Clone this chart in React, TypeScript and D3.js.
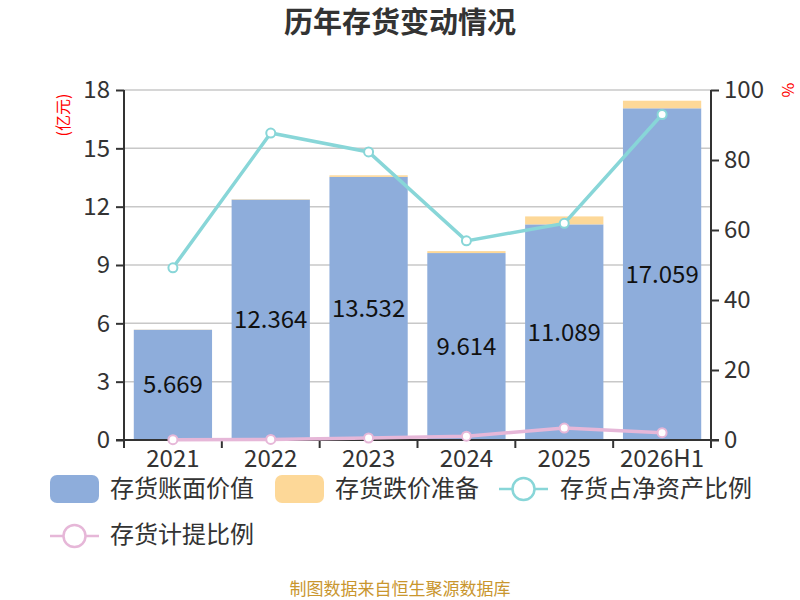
import { useEffect, useRef } from "react";
import * as d3 from "d3";

const years = ["2021", "2022", "2023", "2024", "2025", "2026H1"];
const bookValue = [5.669, 12.364, 13.532, 9.614, 11.089, 17.059];
const impairment = [0.01, 0.02, 0.08, 0.1, 0.41, 0.39];
const netAssetRatio = [49.2, 87.7, 82.3, 56.9, 61.9, 93.0];
const provisionRatio = [0.1, 0.15, 0.57, 1.1, 3.4, 2.1];
const leftTicks = [0, 3, 6, 9, 12, 15, 18];
const rightTicks = [0, 20, 40, 60, 80, 100];

const FONT = "'Noto Sans CJK SC', 'Noto Sans', sans-serif";

export default function App() {
  const svgRef = useRef<SVGSVGElement>(null);

  useEffect(() => {
    if (!svgRef.current) return;
    const svg = d3.select(svgRef.current);
    svg.selectAll("*").remove();

    const left = 124, right = 711, top = 90, bottom = 440;

    const yL = d3.scaleLinear().domain([0, 18]).range([bottom, top]);
    const yR = d3.scaleLinear().domain([0, 100]).range([bottom, top]);

    // title
    svg.append("text")
      .attr("x", 400).attr("y", 33)
      .attr("text-anchor", "middle")
      .style("font-family", FONT).style("font-size", "29px").style("font-weight", "bold")
      .attr("fill", "#333")
      .text("历年存货变动情况");

    // grid
    svg.append("g").selectAll("line").data(leftTicks).enter().append("line")
      .attr("x1", left).attr("x2", right)
      .attr("y1", (d) => yL(d)).attr("y2", (d) => yL(d))
      .attr("stroke", "#c8c8c8").attr("stroke-width", 1.5);

    // bars
    const band = d3.scaleBand().domain(years).range([left, right]).padding(0);
    const bw = band.bandwidth() * 0.8;
    const bx = (d: string) => (band(d) as number) + band.bandwidth() * 0.1;

    svg.append("g").selectAll("rect").data(years).enter().append("rect")
      .attr("x", (d) => bx(d)).attr("width", bw)
      .attr("y", (d, i) => yL(bookValue[i]))
      .attr("height", (d, i) => yL(0) - yL(bookValue[i]))
      .attr("fill", "#8eaddb");

    svg.append("g").selectAll("rect").data(years).enter().append("rect")
      .attr("x", (d) => bx(d)).attr("width", bw)
      .attr("y", (d, i) => yL(bookValue[i] + impairment[i]))
      .attr("height", (d, i) => yL(bookValue[i]) - yL(bookValue[i] + impairment[i]))
      .attr("fill", "#fdd898");

    // value labels
    svg.append("g").selectAll("text").data(years).enter().append("text")
      .attr("x", (d) => bx(d) + bw / 2)
      .attr("y", (d, i) => yL(bookValue[i] / 2))
      .attr("dy", "0.35em")
      .attr("text-anchor", "middle")
      .style("font-family", FONT).style("font-size", "24px")
      .attr("fill", "#111")
      .text((d, i) => bookValue[i].toFixed(3));

    // axes
    const axisColor = "#333";
    const gL = svg.append("g").attr("transform", `translate(${left},0)`)
      .call(d3.axisLeft(yL).tickValues(leftTicks).tickSize(8).tickPadding(6).tickSizeOuter(0));
    const gR = svg.append("g").attr("transform", `translate(${right},0)`)
      .call(d3.axisRight(yR).tickValues(rightTicks).tickSize(8).tickPadding(5).tickSizeOuter(0));
    const gX = svg.append("g").attr("transform", `translate(0,${bottom})`)
      .call(d3.axisBottom(band).tickSize(0).tickSizeOuter(0));

    [gL, gR, gX].forEach((g) => {
      g.select(".domain").attr("stroke", axisColor).attr("stroke-width", 2);
      g.selectAll(".tick line").attr("stroke", axisColor).attr("stroke-width", 2);
      g.selectAll(".tick text")
        .style("font-family", FONT).style("font-size", "24px").attr("fill", "#333");
    });
    gL.select(".domain").attr("d", `M0,${top}V${bottom + 8}`);
    gR.select(".domain").attr("d", `M0,${top}V${bottom + 8}`);
    gX.select(".domain").attr("d", `M${left - 8},0H${right + 8}`);
    gX.selectAll(".tick text").attr("dy", "0.5em").attr("y", 15);

    // x separators between categories
    const bounds = [...years.map((d) => band(d) as number), right];
    gX.append("g").selectAll("line").data(bounds).enter().append("line")
      .attr("x1", (d) => d).attr("x2", (d) => d)
      .attr("y1", 0).attr("y2", 8)
      .attr("stroke", axisColor).attr("stroke-width", 2);

    // axis unit labels
    svg.append("text")
      .attr("transform", `translate(63,115) rotate(-90)`)
      .attr("text-anchor", "middle").attr("dy", "0.35em")
      .style("font-family", FONT).style("font-size", "16px")
      .attr("fill", "#f00").text("(亿元)");
    svg.append("text")
      .attr("transform", `translate(788,90) rotate(90)`)
      .attr("text-anchor", "middle").attr("dy", "0.35em")
      .style("font-family", FONT).style("font-size", "16px")
      .attr("fill", "#f00").text("%");

    // lines
    const cx = (d: string) => bx(d) + bw / 2;
    const drawLine = (vals: number[], color: string) => {
      const line = d3.line<number>()
        .x((d, i) => cx(years[i]))
        .y((d) => yR(d));
      svg.append("path").datum(vals)
        .attr("d", line).attr("fill", "none")
        .attr("stroke", color).attr("stroke-width", 3.5);
      svg.append("g").selectAll("circle").data(vals).enter().append("circle")
        .attr("cx", (d, i) => cx(years[i])).attr("cy", (d) => yR(d))
        .attr("r", 4.5).attr("fill", "#fff")
        .attr("stroke", color).attr("stroke-width", 2);
    };
    drawLine(provisionRatio, "#e6b7d8");
    drawLine(netAssetRatio, "#88d6d8");

    // legend
    const lg = svg.append("g").style("font-family", FONT).style("font-size", "24px").attr("fill", "#333");
    const legendText = (tx: number, ty: number, t: string) =>
      lg.append("text").attr("x", tx).attr("y", ty).attr("dy", "0.35em").text(t);

    lg.append("rect").attr("x", 50).attr("y", 475).attr("width", 49).attr("height", 28).attr("rx", 7).attr("fill", "#8eaddb");
    legendText(110, 489, "存货账面价值");
    lg.append("rect").attr("x", 275).attr("y", 475).attr("width", 49).attr("height", 28).attr("rx", 7).attr("fill", "#fdd898");
    legendText(335, 489, "存货跌价准备");

    const lineIcon = (lx: number, ly: number, color: string) => {
      lg.append("line").attr("x1", lx).attr("x2", lx + 49).attr("y1", ly).attr("y2", ly)
        .attr("stroke", color).attr("stroke-width", 2.5);
      lg.append("circle").attr("cx", lx + 24.5).attr("cy", ly).attr("r", 11)
        .attr("fill", "#fff").attr("stroke", color).attr("stroke-width", 2.5);
    };
    lineIcon(499, 489, "#88d6d8");
    legendText(560, 489, "存货占净资产比例");
    lineIcon(50, 536, "#e6b7d8");
    legendText(110, 535, "存货计提比例");

    // footer
    svg.append("text")
      .attr("x", 400).attr("y", 589).attr("dy", "0.35em")
      .attr("text-anchor", "middle")
      .style("font-family", FONT).style("font-size", "17px")
      .attr("fill", "#c9962e")
      .text("制图数据来自恒生聚源数据库");
  }, []);

  return (
    <div style={{ position: "absolute", top: 0, left: 0 }}>
      <svg ref={svgRef} width={800} height={600} style={{ display: "block", background: "#fff" }} />
    </div>
  );
}
